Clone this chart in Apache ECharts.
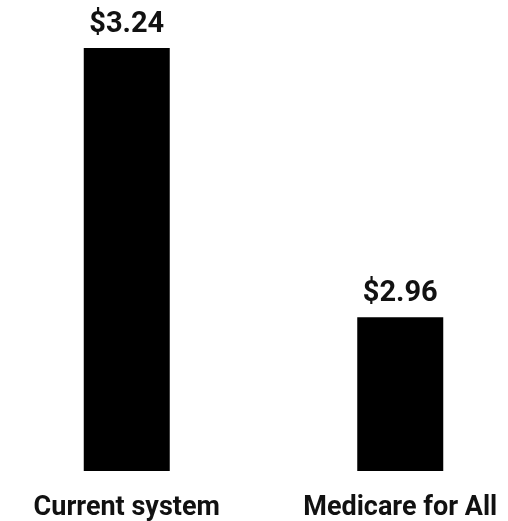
<!DOCTYPE html>
<html>
<head>
<meta charset="utf-8">
<script src="https://cdn.jsdelivr.net/npm/echarts@6/dist/echarts.min.js"></script>
<style>
  html, body { margin: 0; padding: 0; background: #fff; }
  #chart { width: 508px; height: 521px; }
</style>
</head>
<body>
<div id="chart"></div>
<script>
// Cost per dollar of care, two scenarios
const categories = ['Current system', 'Medicare for All'];
const costValues = [3.24, 2.96];

const FONT = 'Roboto, "Noto Sans", sans-serif';

const chart = echarts.init(document.getElementById('chart'), null, { renderer: 'canvas' });
chart.setOption({
  animation: false,
  backgroundColor: '#ffffff',
  grid: { left: -10, width: 547, top: 48, bottom: 50, outerBoundsMode: 'none', containLabel: false },
  xAxis: {
    type: 'category',
    data: categories,
    axisLine: { show: false },
    axisTick: { show: false },
    axisLabel: {
      color: '#111',
      fontFamily: FONT,
      fontWeight: 'bold',
      fontSize: 27,
      margin: 24,
      interval: 0
    }
  },
  yAxis: {
    type: 'value',
    min: 2.8,
    max: 3.24,
    show: false,
    splitLine: { show: false }
  },
  series: [{
    type: 'bar',
    data: costValues,
    barWidth: 86,
    itemStyle: { color: '#000' },
    label: {
      show: true,
      position: 'top',
      distance: 9,
      color: '#111',
      fontFamily: FONT,
      fontWeight: 'bold',
      fontSize: 29,
      formatter: p => '$' + p.value.toFixed(2)
    }
  }]
});
</script>
</body>
</html>
